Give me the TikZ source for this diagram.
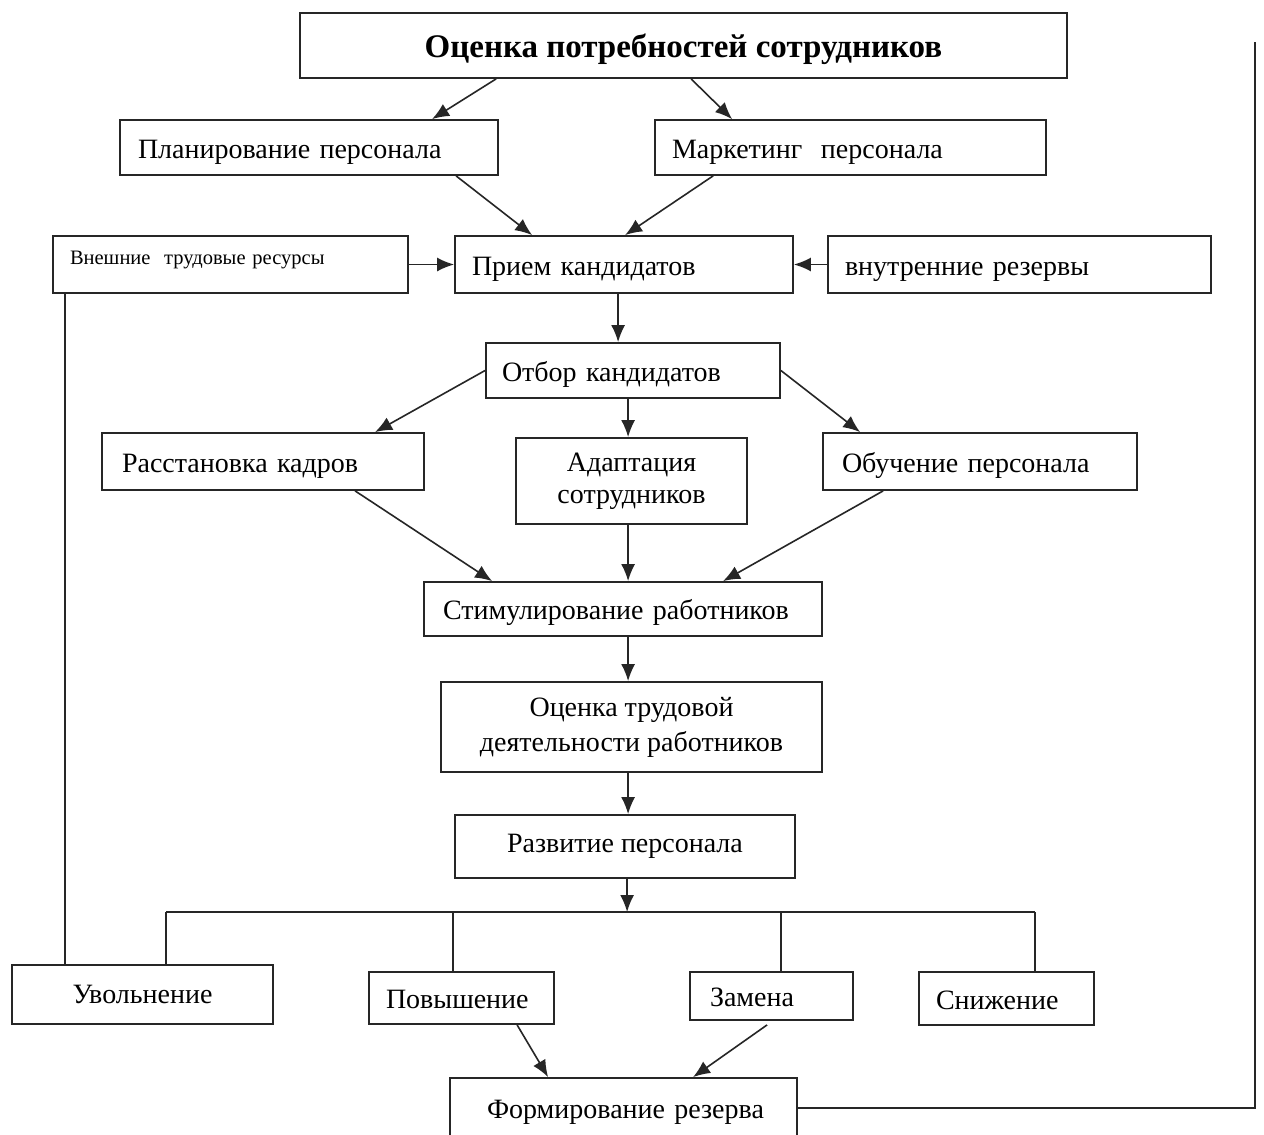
\documentclass[tikz,border=0pt]{standalone}
\usepackage{fontspec}
\setmainfont{Liberation Serif}
\usetikzlibrary{arrows.meta}
\begin{document}
\begin{tikzpicture}[x=1pt,y=-1pt,
  box/.style={draw=black!85, line width=1.8pt, rectangle, font=\fontsize{28}{35}\selectfont, inner ysep=0pt},
  lbox/.style={box, align=left, text height=21pt, text depth=0pt},
  cbox/.style={box, align=center, inner xsep=0pt},
  arr/.style={line width=1.6pt, draw=black!85, -{Latex[length=17pt,width=14pt]}},
  ln/.style={line width=1.7pt, draw=black!85}]
\fill[white] (0,0) rectangle (1264,1135);
\useasboundingbox (0,0) rectangle (1264,1135);

\node[cbox, minimum width=767pt, minimum height=65pt, text height=23pt, text depth=0pt, font=\fontsize{33}{38}\selectfont\bfseries] (top) at (683.5,45.5) {Оценка потребностей сотрудников};
\node[lbox, text width=342pt, inner xsep=18pt, minimum height=55pt] (plan) at (309,147.5) {Планирование персонала};
\node[lbox, text width=357pt, inner xsep=17pt, minimum height=55pt] (mark) at (850.5,147.5) {Маркетинг\ \ персонала};
\node[lbox, text width=321pt, inner xsep=17pt, minimum height=57pt, text height=0pt, font=\fontsize{20.5}{25}\selectfont] (ext) at (230.5,264.5) {Внешние\ \ трудовые ресурсы};
\node[lbox, text width=304pt, inner xsep=17pt, minimum height=57pt] (priem) at (624,264.5) {Прием кандидатов};
\node[lbox, text width=349pt, inner xsep=17pt, minimum height=57pt] (vnutr) at (1019.5,264.5) {внутренние резервы};
\node[lbox, text width=262pt, inner xsep=16pt, minimum height=55pt] (otbor) at (633,370.5) {Отбор кандидатов};
\node[lbox, text width=282pt, inner xsep=20pt, minimum height=57pt] (rasst) at (263,461.5) {Расстановка кадров};
\node[cbox, minimum width=231pt, minimum height=86pt] (adapt) at (631.5,481) {\raisebox{-3pt}{Адаптация}\\сотрудников};
\node[lbox, text width=276pt, inner xsep=19pt, minimum height=57pt] (obuch) at (980,461.5) {Обучение персонала};
\node[lbox, text width=360pt, inner xsep=19pt, minimum height=54pt] (stim) at (623,609) {Стимулирование работников};
\node[cbox, minimum width=381pt, minimum height=90pt] (otsenka) at (631.5,727) {Оценка трудовой\\деятельности работников};
\node[cbox, minimum width=340pt, minimum height=63pt] (razv) at (625,846.5) {Развитие персонала};
\node[cbox, minimum width=261pt, minimum height=59pt] (uvol) at (142.5,994.5) {Увольнение};
\node[lbox, text width=151pt, inner xsep=17pt, minimum height=52pt] (povysh) at (461.5,998) {Повышение};
\node[lbox, text width=123pt, inner xsep=20pt, minimum height=48pt] (zamena) at (771.5,996) {Замена};
\node[lbox, text width=141pt, inner xsep=17pt, minimum height=53pt] (snizh) at (1006.5,998.5) {Снижение};
\node[lbox, text width=327pt, inner xsep=10pt, minimum height=60pt] (form) at (623.5,1108) {\hspace*{27pt}\mbox{Формирование резерва}};

% arrows
\draw[arr] ([xshift=197pt]top.south west) -- ([xshift=313pt]plan.north west);
\draw[arr] ([xshift=392pt]top.south west) -- ([xshift=78pt]mark.north west);
\draw[arr] ([xshift=337pt]plan.south west) -- ([xshift=78pt]priem.north west);
\draw[arr] ([xshift=59pt]mark.south west) -- ([xshift=171pt]priem.north west);
\draw[arr] (ext.east) -- (priem.west);
\draw[arr] (vnutr.west) -- (priem.east);
\draw[arr] ([xshift=164pt]priem.south west) -- ([xshift=164pt]priem.south west |- otbor.north);
\draw[arr] (otbor.west) -- ([xshift=274pt]rasst.north west);
\draw[arr] ([xshift=143pt]otbor.south west) -- ([xshift=143pt]otbor.south west |- adapt.north);
\draw[arr] (otbor.east) -- ([xshift=38pt]obuch.north west);
\draw[arr] ([xshift=254pt]rasst.south west) -- ([xshift=69pt]stim.north west);
\draw[arr] ([xshift=113pt]adapt.south west) -- ([xshift=113pt]adapt.south west |- stim.north);
\draw[arr] ([xshift=61pt]obuch.south west) -- ([xshift=300pt]stim.north west);
\draw[arr] ([xshift=205pt]stim.south west) -- ([xshift=205pt]stim.south west |- otsenka.north);
\draw[arr] ([xshift=188pt]otsenka.south west) -- ([xshift=188pt]otsenka.south west |- razv.north);

% bus
\coordinate (busL) at (166,912);
\coordinate (busR) at (1035,912);
\coordinate (b2) at (453,912);
\coordinate (b3) at (781,912);
\draw[arr] ([xshift=173pt]razv.south west) -- ([xshift=173pt]razv.south west |- busL);
\draw[ln] (busL) -- (busR);
\draw[ln] (busL) -- (busL |- uvol.north);
\draw[ln] (b2) -- (b2 |- povysh.north);
\draw[ln] (b3) -- (b3 |- zamena.north);
\draw[ln] (busR) -- (busR |- snizh.north);

\draw[arr] ([xshift=149pt]povysh.south west) -- ([xshift=99pt]form.north west);
\draw[arr] ([xshift=78pt,yshift=-4pt]zamena.south west) -- ([xshift=244pt]form.north west);

% loops
\coordinate (loopT) at (1255,42);
\draw[ln] (form.east) -- (form.east -| loopT) -- (loopT);
\draw[ln] ([xshift=13pt]ext.south west) -- ([xshift=13pt]ext.south west |- uvol.north);
\end{tikzpicture}
\end{document}
